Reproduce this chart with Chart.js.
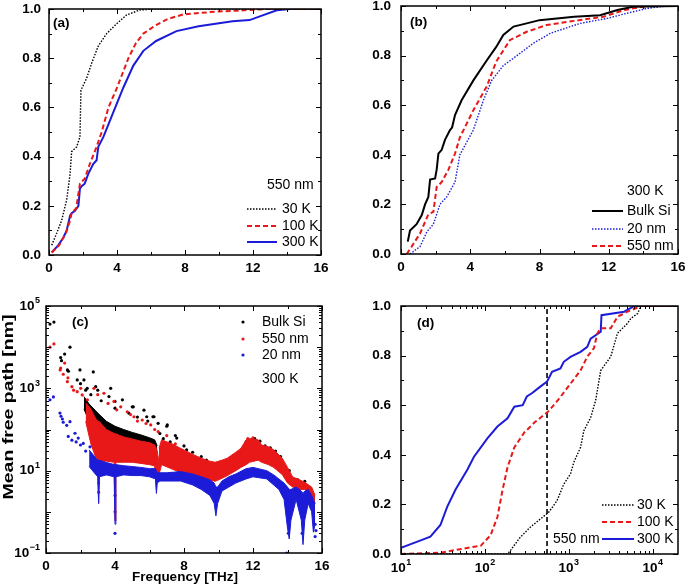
<!DOCTYPE html>
<html>
<head>
<meta charset="utf-8">
<script src="https://cdn.jsdelivr.net/npm/chart.js@4.4.0/dist/chart.umd.min.js"></script>
<style>
body { margin: 0; background: #fff; }
#wrap { position: relative; width: 685px; height: 587px; }
canvas { position: absolute; left: 0; top: 0; }
</style>
</head>
<body>
<div id="wrap">
<canvas id="pa" width="685" height="587"></canvas>
<canvas id="pb" width="685" height="587"></canvas>
<canvas id="pc" width="685" height="587"></canvas>
<canvas id="pd" width="685" height="587"></canvas>
</div>
<script>
const FONT = '"Liberation Sans", Arial, sans-serif';
const RED = '#e81818', BLUE = '#1c1cd8', BLACK = '#000';

// (a) cumulative vs frequency [THz], 550 nm film
const freqA30 = [0.16,0.45,0.75,1.04,1.24,1.33,1.63,1.82,1.88,2.22,2.51,2.9,3.39,3.98,4.57,5.35,6.2,16];
const cumA30 = [0.04,0.088,0.142,0.224,0.33,0.42,0.44,0.48,0.67,0.72,0.78,0.85,0.90,0.94,0.976,0.996,1,1];
const freqA100 = [0.16,0.6,1.0,1.24,1.33,1.6,1.82,1.95,2.1,2.4,2.8,3.1,3.5,4.0,4.67,5.1,5.55,6.3,7.0,7.9,9.9,11,12.8,16];
const cumA100 = [0.01,0.04,0.09,0.14,0.17,0.19,0.29,0.30,0.31,0.37,0.44,0.5,0.6,0.68,0.8,0.86,0.9,0.935,0.96,0.978,0.99,0.993,1,1];
const freqA300 = [0.16,0.55,0.84,1.04,1.24,1.33,1.53,1.73,1.82,1.92,2.1,2.31,2.6,2.8,2.9,3.2,3.78,4.37,4.96,5.55,6.3,7.5,8.8,10.8,11.8,12.4,13.4,14.2,16];
const cumA300 = [0.01,0.04,0.07,0.1,0.16,0.17,0.18,0.2,0.27,0.28,0.29,0.33,0.37,0.385,0.44,0.48,0.58,0.68,0.77,0.83,0.87,0.91,0.93,0.95,0.955,0.97,0.995,1,1];

// (b) cumulative vs frequency, 300 K
const freqBBulk = [0.39,0.52,0.9,1.2,1.39,1.58,1.68,1.97,2.06,2.16,2.35,2.54,2.83,2.95,3.12,3.5,4.18,4.95,5.5,5.91,6.5,7.26,8.0,10,11.5,12.5,13.4,16];
const cumBBulk = [0.05,0.095,0.12,0.157,0.2,0.23,0.3,0.305,0.34,0.405,0.42,0.46,0.5,0.51,0.56,0.62,0.7,0.78,0.835,0.883,0.917,0.93,0.943,0.957,0.963,0.984,0.997,1];
const freqB20 = [0.52,1.1,1.5,1.87,2.25,2.64,3.12,3.4,4.18,4.76,5.24,5.91,6.7,7.65,8.62,10.35,11.9,13.0,14.2,15.3,16];
const cumB20 = [0,0.03,0.09,0.12,0.2,0.23,0.29,0.4,0.5,0.62,0.7,0.76,0.8,0.85,0.89,0.93,0.95,0.97,0.99,1,1];
const freqB550 = [0.33,0.62,1.1,1.58,1.87,2.06,2.35,2.74,3.12,3.4,4.18,4.95,5.5,6.3,7.26,8.4,10,11.7,12.9,14.2,16];
const cumB550 = [0,0.03,0.083,0.16,0.17,0.27,0.29,0.34,0.405,0.47,0.58,0.675,0.776,0.863,0.896,0.923,0.94,0.957,0.984,1,1];

// (c) mean free path [nm] vs frequency, 300 K: dense bands (upper / lower edge) plus single points
const bulkBandF = [2.2,2.5,3.0,3.5,4.0,4.5,5.0,5.5,6.0,6.3,6.45];
const bulkBandHi = [631,417,251,158,120,100,85,74,63,56,40];
const bulkBandLo = [316,158,79,56,50,45,40,35,32,28,20];
const bulkDots = [[0.23,36300],[0.46,40700],[0.85,5600],[0.9,4700],[1.08,6800],[1.39,10000],[1.24,2800],[1.3,2600],[1.97,2800],[1.81,1600],[2.2,1600],[2.74,2500],[2.39,1000],[2.88,1100],[3.0,900],[3.75,1000],[3.65,630],[4.0,480],[4.43,525],[5.0,355],[5.06,355],[5.68,295],[5.84,204],[6.2,204],[6.26,204],[7.03,129],[7.0,120],[7.58,62],[8.15,32],[2.0,1300],[2.3,900],[2.6,700],[3.2,500],[4.0,330],[4.8,250],[5.3,200],[5.9,160],[6.5,141],[7.5,71],[8.0,40],[8.5,28],[9.0,22],[9.3,18],[11.6,50],[11.9,56],[12.1,60],[12.4,52],[12.7,40],[13.0,36],[13.3,30],[13.6,22],[14.1,10],[14.6,6],[15.0,5.5],[6.6,80],[6.8,60],[7.2,50]];

const film550BandF = [2.3,2.6,2.9,3.0,3.05,3.1,3.5,3.95,4.0,4.05,4.5,5.0,5.5,6.0,6.3,6.4,6.45,6.55];
const film550BandHi = [447,316,178,160,158,155,100,80,79,78,66,59,52,48,42,35,30,16];
const film550BandLo = [158,45,20,17,1.6,17,17,16,0.6,16,16,16,15,14,13,3.5,8,6];
const film550Band2F = [6.55,6.7,7.3,7.8,8.5,9.0,9.5,9.8,10.2,10.5,11.0,11.3,11.6,11.8,12.3,12.5,12.9,13.2,13.7,14.0,14.3,14.7,15.0,15.4,15.6];
const film550Band2Hi = [35,56,45,35,25,20,17,16,18,20,28,35,56,60,56,42,38,32,20,12,7,6,5.2,4,2.5];
const film550Band2Lo = [8,14,11,9,7.5,6.5,6,5.5,6.5,7.5,10,12,14,16,18,16,14,12,8,5,4,3.5,3.5,2.5,1.6];
const film550Dots = [[0.23,10000],[0.46,12000],[0.82,2800],[0.85,3100],[1.08,4100],[1.0,2200],[1.24,1450],[1.27,1800],[1.5,1100],[1.6,900],[1.81,830],[2.01,1000],[2.1,690],[2.4,525],[2.78,1000],[3.0,700],[3.36,760],[3.6,430],[3.94,480],[4.1,300],[4.33,355],[4.71,270],[4.9,230],[5.1,204],[5.3,160],[5.58,170],[5.8,140],[6.07,129],[6.3,100],[6.5,89],[7.0,71],[7.5,45],[8.0,28],[3.05,3],[3.05,5],[4.0,1],[4.0,2.5],[6.45,6],[11.7,60],[12.0,63]];

const film20BandF = [2.5,2.9,3.0,3.05,3.1,3.5,3.95,4.0,4.05,4.5,5.0,5.5,6.0,6.35,6.4,6.45,6.6,7.0,7.8,8.5,9.0,9.5,9.75,9.85,9.95,10.2,10.6,11.0,11.6,12.0,12.8,13.2,13.5,13.8,14.0,14.1,14.2,14.5,14.8,14.9,15.0,15.2,15.4,15.5,15.6];
const film20BandHi = [32,20,17.8,17.8,17.8,15.8,14.1,14.1,14.1,13.2,12.6,12,11.2,11.2,10,8.9,8.9,8.9,9.5,8.3,7.1,6,5,4,4,5.6,7.1,8.3,11.2,12,10,7.9,6.3,5,4,3.5,3.5,4,3.2,2.8,3.2,3.5,2.5,2,1.6];
const film20BandLo = [12.6,7.9,7.1,1.6,7.1,7.9,7.1,0.5,7.1,7.9,7.6,7.6,7.1,6.3,2.8,5,5.6,5.6,5.6,4.5,3.5,2.5,1.6,0.8,1.6,3.2,4,5,6.3,7.1,6.3,4.5,3.5,2,0.4,0.22,0.63,2,0.63,0.16,0.63,1.6,1,0.32,0.5];
const film20Dots = [[0.23,525],[0.43,620],[0.81,250],[0.87,210],[0.95,180],[1.0,150],[1.2,126],[1.39,155],[1.29,68],[1.5,55],[1.68,81],[1.75,50],[1.87,62],[2.0,42],[2.16,46],[2.3,30],[2.55,38],[4.0,0.3],[13.95,0.1],[14.05,0.3],[15.6,0.5],[15.65,0.35],[15.6,0.25],[14.85,0.3]];

// (d) cumulative vs mean free path [nm], 550 nm film
const mfpD30 = [10,186,200,263,347,457,575,724,871,1047,1148,1380,1510,1820,2090,2400,3160,3800,5010,5500,6610,7240,20000];
const cumD30 = [0,0,0.013,0.067,0.108,0.141,0.168,0.215,0.282,0.323,0.37,0.43,0.497,0.55,0.62,0.74,0.796,0.89,0.93,0.95,0.97,1.0,1.0];
const mfpD100 = [10,29.5,67.6,89.1,117,141,162,186,224,295,389,562,741,1047,1380,1660,1995,2190,2400,3160,3800,5010,7240,20000];
const cumD100 = [0,0.005,0.027,0.033,0.076,0.149,0.257,0.35,0.43,0.49,0.53,0.573,0.62,0.687,0.74,0.796,0.83,0.89,0.91,0.91,0.957,0.977,1.0,1.0];
const mfpD300 = [10,15.4,22.4,29.5,35.5,44.7,61.7,74.1,107,141,186,224,282,316,363,457,550,631,794,871,1047,1380,1660,1820,2400,2450,4570,6030,20000];
const cumD300 = [0.025,0.049,0.07,0.117,0.19,0.26,0.34,0.392,0.466,0.514,0.547,0.594,0.6,0.635,0.648,0.675,0.695,0.735,0.748,0.775,0.795,0.815,0.835,0.868,0.896,0.963,0.977,1.0,1.0];
const filmThickness = 550;

// tick values
const freqMajor = [0,4,8,12,16], freqMinor = [2,6,10,14];
const cumMajor = [0,0.2,0.4,0.6,0.8,1], cumMinor = [0.1,0.3,0.5,0.7,0.9];
const mfpDecadesC = [0.1,1,10,100,1000,10000,100000], mfpLabelExpC = [-1,1,3,5];
const mfpDecadesD = [10,100,1000,10000], mfpLabelExpD = [1,2,3,4];

Chart.defaults.font.family = FONT;
Chart.defaults.font.size = 13.5;
Chart.defaults.font.weight = 'bold';
Chart.defaults.color = '#000';

const pts = (xs, ys) => xs.map((x, i) => ({x, y: ys[i]}));
const lineDs = (xs, ys, color, width, dash) => ({
  data: pts(xs, ys), borderColor: color, borderWidth: width, borderDash: dash || [],
  pointRadius: 0, fill: false, tension: 0
});
const dotDs = (list, color, order) => ({
  data: list.map(p => ({x: p[0], y: p[1]})), showLine: false, pointRadius: 1.6,
  pointBackgroundColor: color, pointBorderWidth: 0, order
});
const bandDs = (xs, hi, lo, color, order) => [
  {data: pts(xs, hi), borderColor: color, borderWidth: 1, pointRadius: 0, fill: '+1', backgroundColor: color, order, tension: 0},
  {data: pts(xs, lo), borderColor: color, borderWidth: 1, pointRadius: 0, fill: false, order, tension: 0}
];

function logMinor(lo, hi) {
  const out = [];
  for (let d = Math.floor(Math.log10(lo)); d <= Math.ceil(Math.log10(hi)); d++)
    for (let k = 2; k <= 9; k++) { const v = k * Math.pow(10, d); if (v > lo && v < hi) out.push(v); }
  return out;
}

function powLabel(ctx, exp, x, y, align) {
  const base = '10', sup = String(exp).replace('-', '\u2212');
  ctx.font = 'bold 13.5px ' + FONT;
  const wb = ctx.measureText(base).width;
  ctx.font = 'bold 9px ' + FONT;
  const ws = ctx.measureText(sup).width;
  const total = wb + ws + 0.5;
  const x0 = align === 'right' ? x - total : x - total / 2;
  ctx.textAlign = 'left'; ctx.textBaseline = 'middle';
  ctx.font = 'bold 13.5px ' + FONT; ctx.fillText(base, x0, y);
  ctx.font = 'bold 9px ' + FONT; ctx.fillText(sup, x0 + wb + 0.5, y - 5);
}

function framePlugin(cfg) {
  return {
    id: 'frame',
    afterDraw(chart) {
      const {ctx, chartArea: a, scales: {x, y}} = chart;
      ctx.save();
      ctx.strokeStyle = '#000';
      ctx.lineWidth = 1;
      const tick = (scale, vals, len) => vals.forEach(v => {
        const p = Math.round(scale.getPixelForValue(v)) + 0.5;
        ctx.beginPath();
        if (scale.isHorizontal()) {
          ctx.moveTo(p, a.bottom); ctx.lineTo(p, a.bottom - len);
          ctx.moveTo(p, a.top); ctx.lineTo(p, a.top + len);
        } else {
          ctx.moveTo(a.left, p); ctx.lineTo(a.left + len, p);
          ctx.moveTo(a.right, p); ctx.lineTo(a.right - len, p);
        }
        ctx.stroke();
      });
      tick(x, cfg.xMajor, 5); tick(x, cfg.xMinor, 3);
      tick(y, cfg.yMajor, 5); tick(y, cfg.yMinor, 3);
      ctx.lineWidth = 1.5;
      ctx.strokeRect(a.left, a.top, a.right - a.left, a.bottom - a.top);

      ctx.fillStyle = '#000';
      if (cfg.yPow) cfg.yPow.exps.forEach(e => powLabel(ctx, e, a.left - 6, y.getPixelForValue(Math.pow(10, e)), 'right'));
      if (cfg.xPow) cfg.xPow.exps.forEach(e => powLabel(ctx, e, x.getPixelForValue(Math.pow(10, e)), a.bottom + 14, 'center'));

      ctx.font = 'bold 13.5px ' + FONT;
      ctx.textAlign = 'left'; ctx.textBaseline = 'middle';
      ctx.fillText(cfg.letter[0], cfg.letter[1], cfg.letter[2]);

      ctx.font = '14px ' + FONT;
      (cfg.notes || []).forEach(n => ctx.fillText(n[0], n[1], n[2]));
      (cfg.legend || []).forEach(it => {
        const ds = chart.data.datasets[it.ds];
        if (it.dot) {
          ctx.fillStyle = ds.pointBackgroundColor;
          ctx.beginPath(); ctx.arc(it.x0, it.y, 1.6, 0, 2 * Math.PI); ctx.fill();
        } else {
          ctx.strokeStyle = ds.borderColor; ctx.lineWidth = ds.borderWidth;
          ctx.setLineDash(ds.borderDash || []);
          ctx.beginPath(); ctx.moveTo(it.x0, it.y); ctx.lineTo(it.x1, it.y); ctx.stroke();
          ctx.setLineDash([]);
        }
        ctx.fillStyle = '#000';
        ctx.fillText(it.text, it.tx, it.y);
      });
      if (cfg.titles) cfg.titles(ctx);
      ctx.restore();
    }
  };
}

function panel(id, box, xOpts, yOpts, datasets, cfg) {
  const fix = (w, h) => s => {
    if (w) s.width = w; if (h) s.height = h;
    s.paddingLeft = s.paddingRight = s.paddingTop = s.paddingBottom = 0;
  };
  return new Chart(document.getElementById(id), {
    type: 'line',
    data: {datasets},
    options: {
      responsive: false, animation: false, devicePixelRatio: 1,
      layout: {padding: {left: 0, top: box.top, right: 685 - box.right, bottom: 0}},
      plugins: {legend: {display: false}, tooltip: {enabled: false}, filler: {drawTime: 'beforeDatasetDraw'}},
      scales: {
        x: Object.assign({grid: {display: false, drawTicks: false}, border: {display: false}, afterFit: fix(0, 587 - box.bottom)}, xOpts),
        y: Object.assign({grid: {display: false, drawTicks: false}, border: {display: false}, afterFit: fix(box.left, 0)}, yOpts)
      }
    },
    plugins: [framePlugin(cfg)]
  });
}

const freqAxis = {type: 'linear', min: 0, max: 16, ticks: {stepSize: 4, padding: 5}};
const cumAxis = pad => ({type: 'linear', min: 0, max: 1, ticks: {stepSize: 0.2, padding: pad, callback: v => v.toFixed(1)}});

// (a)
panel('pa', {left: 49, top: 9, right: 321, bottom: 255}, freqAxis, cumAxis(8), [
  lineDs(freqA30, cumA30, BLACK, 1.4, [1.5, 1.5]),
  lineDs(freqA100, cumA100, RED, 2, [5, 3]),
  lineDs(freqA300, cumA300, BLUE, 2)
], {
  xMajor: freqMajor, xMinor: freqMinor, yMajor: cumMajor, yMinor: cumMinor,
  letter: ['(a)', 53, 23],
  notes: [['550 nm', 267, 185]],
  legend: [
    {ds: 0, text: '30 K', x0: 247, x1: 277, tx: 282, y: 209},
    {ds: 1, text: '100 K', x0: 247, x1: 277, tx: 282, y: 226},
    {ds: 2, text: '300 K', x0: 247, x1: 277, tx: 282, y: 242}
  ]
});

// (b)
panel('pb', {left: 401, top: 6, right: 678, bottom: 254}, freqAxis, cumAxis(10), [
  lineDs(freqBBulk, cumBBulk, BLACK, 2),
  lineDs(freqB20, cumB20, BLUE, 1.4, [1.5, 1.5]),
  lineDs(freqB550, cumB550, RED, 2, [5, 3])
], {
  xMajor: freqMajor, xMinor: freqMinor, yMajor: cumMajor, yMinor: cumMinor,
  letter: ['(b)', 410, 22],
  notes: [['300 K', 627, 191]],
  legend: [
    {ds: 0, text: 'Bulk Si', x0: 592, x1: 623, tx: 627, y: 211},
    {ds: 1, text: '20 nm', x0: 592, x1: 623, tx: 627, y: 229},
    {ds: 2, text: '550 nm', x0: 592, x1: 623, tx: 627, y: 246}
  ]
});

// (c)
panel('pc', {left: 46, top: 306, right: 322, bottom: 553}, freqAxis,
  {type: 'logarithmic', min: 0.1, max: 100000, ticks: {display: false}}, [
  ...bandDs(bulkBandF, bulkBandHi, bulkBandLo, BLACK, 6),
  dotDs(bulkDots, BLACK, 5),
  ...bandDs(film550BandF, film550BandHi, film550BandLo, RED, 4),
  ...bandDs(film550Band2F, film550Band2Hi, film550Band2Lo, RED, 4),
  dotDs(film550Dots, RED, 3),
  ...bandDs(film20BandF, film20BandHi, film20BandLo, BLUE, 2),
  dotDs(film20Dots, BLUE, 1)
], {
  xMajor: freqMajor, xMinor: freqMinor, yMajor: mfpDecadesC, yMinor: logMinor(0.1, 100000),
  yPow: {exps: mfpLabelExpC},
  letter: ['(c)', 72, 322],
  notes: [['300 K', 262, 379]],
  legend: [
    {ds: 2, dot: true, text: 'Bulk Si', x0: 243, tx: 262, y: 322},
    {ds: 7, dot: true, text: '550 nm', x0: 243, tx: 262, y: 339},
    {ds: 10, dot: true, text: '20 nm', x0: 243, tx: 262, y: 355}
  ],
  titles: ctx => {
    ctx.font = 'bold 13.5px ' + FONT;
    ctx.textAlign = 'center';
    ctx.fillText('Frequency [THz]', 185, 577);
    ctx.save();
    ctx.translate(9, 407); ctx.rotate(-Math.PI / 2);
    ctx.font = 'bold 14px ' + FONT;
    const t = 'Mean free path [nm]';
    ctx.scale(185 / ctx.measureText(t).width, 1);
    ctx.fillText(t, 0, 0);
    ctx.restore();
  }
});

// (d)
panel('pd', {left: 401, top: 306, right: 678, bottom: 554},
  {type: 'logarithmic', min: 10, max: 20000, ticks: {display: false}}, cumAxis(10), [
  lineDs(mfpD30, cumD30, BLACK, 1.4, [1.5, 1.5]),
  lineDs(mfpD100, cumD100, RED, 2, [5, 3]),
  lineDs(mfpD300, cumD300, BLUE, 2),
  lineDs([filmThickness, filmThickness], [0, 1], BLACK, 1.6, [5, 3])
], {
  xMajor: mfpDecadesD, xMinor: logMinor(10, 20000), yMajor: cumMajor, yMinor: cumMinor,
  xPow: {exps: mfpLabelExpD},
  letter: ['(d)', 417, 323],
  notes: [['550 nm', 553, 539]],
  legend: [
    {ds: 0, text: '30 K', x0: 602, x1: 634, tx: 637, y: 505},
    {ds: 1, text: '100 K', x0: 602, x1: 634, tx: 637, y: 522},
    {ds: 2, text: '300 K', x0: 602, x1: 634, tx: 637, y: 539}
  ]
});
</script>
</body>
</html>
